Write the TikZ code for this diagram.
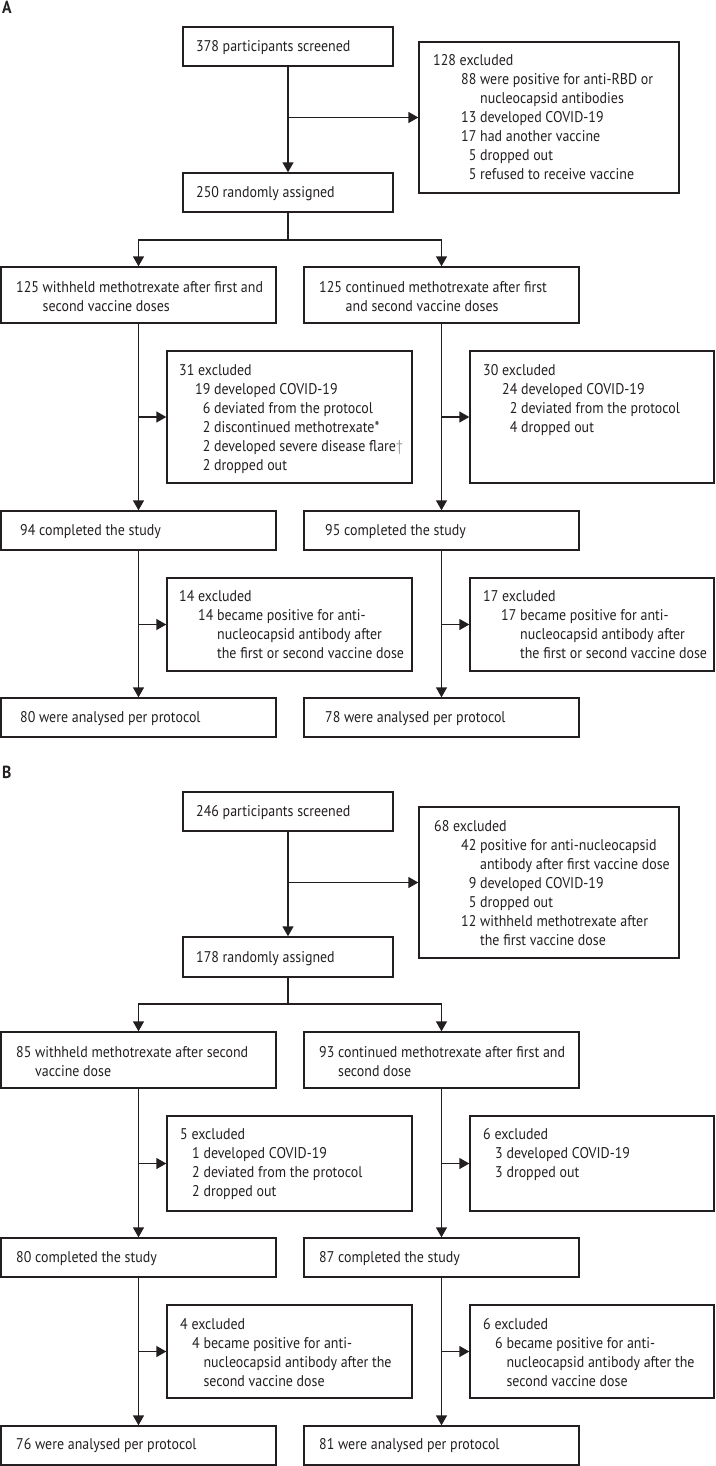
\documentclass[tikz,border=0pt]{standalone}
\usepackage{fontspec}
\setmainfont{PT Sans}[FakeStretch=0.9]
\usetikzlibrary{arrows.meta,fit}
\definecolor{ink}{HTML}{231F20}
\definecolor{dag}{HTML}{9A9A9A}
\tikzset{
 bx/.style={draw=ink, line width=1.4pt, inner sep=0pt, rectangle},
 txt/.style={anchor=base west, inner sep=0pt, text=ink, font=\fontsize{15.5}{19}\selectfont},
 ln/.style={draw=ink, line width=1.4pt},
 arr/.style={ln, -{Triangle[length=10pt,width=11pt]}},
 lab/.style={anchor=base west, inner sep=0pt, text=ink, font=\fontsize{17.5}{19}\selectfont\bfseries},
}
\begin{document}
\begin{tikzpicture}[x=1pt,y=-1pt]
\useasboundingbox (0,0) rectangle (715,1466);
% ---------------- Panel A ----------------
\node[lab] (la) at (2,13.5) {A};
\node[bx, fit={(183,27) (393,66)}] (s1) {};
\node[txt] (s1t) at (196,52) {378 participants screened};
\node[bx, fit={(419,42) (679,193)}] (ex1) {};
\node[txt] (ex1t) at (433,66) {\begin{tabular}[t]{@{}l@{}r@{\ }l@{}}\multicolumn{3}{@{}l@{}}{128 excluded}\\\hspace*{28pt}&88&were positive for anti-RBD or\\&&nucleocapsid antibodies\\&13&developed COVID-19\\&17&had another vaccine\\&5&dropped out\\&5&refused to receive vaccine\end{tabular}};
\node[bx, fit={(183,173) (393,212)}] (r1) {};
\node[txt] (r1t) at (196,197) {250 randomly assigned};
\node[bx, fit={(1,267) (276,323)}] (g1) {};
\node[txt] (g1t) at (16,292) {\begin{tabular}[t]{@{}l@{\ }l@{}}125&withheld methotrexate after first and\\&second vaccine doses\end{tabular}};
\node[bx, fit={(304,267) (579,323)}] (g2) {};
\node[txt] (g2t) at (319,292) {\begin{tabular}[t]{@{}l@{\ }l@{}}125&continued methotrexate after first\\&and second vaccine doses\end{tabular}};
\node[bx, fit={(167,351) (412,483)}] (ex2) {};
\node[txt] (ex2t) at (179,375) {\begin{tabular}[t]{@{}l@{}r@{\ }l@{}}\multicolumn{3}{@{}l@{}}{31 excluded}\\\hspace*{16pt}&19&developed COVID-19\\&6&deviated from the protocol\\&2&discontinued methotrexate*\\&2&developed severe disease flare\textcolor{dag}{\textdagger}\\&2&dropped out\end{tabular}};
\node[bx, fit={(470,351) (714,483)}] (ex3) {};
\node[txt] (ex3t) at (483,375) {\begin{tabular}[t]{@{}l@{}r@{\ }l@{}}\multicolumn{3}{@{}l@{}}{30 excluded}\\\hspace*{19pt}&24&developed COVID-19\\&2&deviated from the protocol\\&4&dropped out\end{tabular}};
\node[bx, fit={(1,511) (276,550)}] (c1) {};
\node[txt] (c1t) at (20,535) {94 completed the study};
\node[bx, fit={(304,511) (579,550)}] (c2) {};
\node[txt] (c2t) at (325,535) {95 completed the study};
\node[bx, fit={(167,578) (412,671)}] (ex4) {};
\node[txt] (ex4t) at (179,601) {\begin{tabular}[t]{@{}l@{}r@{\ }l@{}}\multicolumn{3}{@{}l@{}}{14 excluded}\\\hspace*{19pt}&14&became positive for anti-\\&&nucleocapsid antibody after\\&&the first or second vaccine dose\end{tabular}};
\node[bx, fit={(470,578) (714,671)}] (ex5) {};
\node[txt] (ex5t) at (483,601) {\begin{tabular}[t]{@{}l@{}r@{\ }l@{}}\multicolumn{3}{@{}l@{}}{17 excluded}\\\hspace*{18pt}&17&became positive for anti-\\&&nucleocapsid antibody after\\&&the first or second vaccine dose\end{tabular}};
\node[bx, fit={(1,698) (276,737)}] (a1) {};
\node[txt] (a1t) at (20,722) {80 were analysed per protocol};
\node[bx, fit={(304,698) (579,737)}] (a2) {};
\node[txt] (a2t) at (325,722) {78 were analysed per protocol};
% connectors A
\coordinate (spA) at (288,240);
\draw[arr] (s1.south) -- (r1.north);
\draw[arr] (s1.south |- ex1.west) -- (ex1.west);
\draw[ln] (r1.south) -- (spA);
\draw[arr] (spA) -| (g1.north);
\draw[arr] (spA) -| (g2.north);
\draw[arr] (g1.south) -- (c1.north);
\draw[arr] (g1.south |- ex2.west) -- (ex2.west);
\draw[arr] (g2.south) -- (c2.north);
\draw[arr] (g2.south |- ex3.west) -- (ex3.west);
\draw[arr] (c1.south) -- (a1.north);
\draw[arr] (c1.south |- ex4.west) -- (ex4.west);
\draw[arr] (c2.south) -- (a2.north);
\draw[arr] (c2.south |- ex5.west) -- (ex5.west);
% ---------------- Panel B ----------------
\node[lab] (lb) at (2,778) {B};
\node[bx, fit={(183,792) (393,831)}] (s2) {};
\node[txt] (s2t) at (196,816) {246 participants screened};
\node[bx, fit={(419,807) (679,958)}] (ex6) {};
\node[txt] (ex6t) at (434,831) {\begin{tabular}[t]{@{}l@{}r@{\ }l@{}}\multicolumn{3}{@{}l@{}}{68 excluded}\\\hspace*{27pt}&42&positive for anti-nucleocapsid\\&&antibody after first vaccine dose\\&9&developed COVID-19\\&5&dropped out\\&12&withheld methotrexate after\\&&the first vaccine dose\end{tabular}};
\node[bx, fit={(183,937) (393,977)}] (r2) {};
\node[txt] (r2t) at (196,962) {178 randomly assigned};
\node[bx, fit={(1,1032) (276,1088)}] (g3) {};
\node[txt] (g3t) at (16,1057) {\begin{tabular}[t]{@{}l@{\ }l@{}}85&withheld methotrexate after second\\&vaccine dose\end{tabular}};
\node[bx, fit={(304,1032) (579,1088)}] (g4) {};
\node[txt] (g4t) at (319,1057) {\begin{tabular}[t]{@{}l@{\ }l@{}}93&continued methotrexate after first and\\&second dose\end{tabular}};
\node[bx, fit={(167,1116) (412,1211)}] (ex7) {};
\node[txt] (ex7t) at (180,1139) {\begin{tabular}[t]{@{}l@{}r@{\ }l@{}}\multicolumn{3}{@{}l@{}}{5 excluded}\\\hspace*{12pt}&1&developed COVID-19\\&2&deviated from the protocol\\&2&dropped out\end{tabular}};
\node[bx, fit={(470,1116) (714,1211)}] (ex8) {};
\node[txt] (ex8t) at (483,1139) {\begin{tabular}[t]{@{}l@{}r@{\ }l@{}}\multicolumn{3}{@{}l@{}}{6 excluded}\\\hspace*{12pt}&3&developed COVID-19\\&3&dropped out\end{tabular}};
\node[bx, fit={(1,1238) (276,1277)}] (c3) {};
\node[txt] (c3t) at (16,1262) {80 completed the study};
\node[bx, fit={(304,1238) (579,1277)}] (c4) {};
\node[txt] (c4t) at (319,1262) {87 completed the study};
\node[bx, fit={(167,1305) (412,1398)}] (ex9) {};
\node[txt] (ex9t) at (180,1329) {\begin{tabular}[t]{@{}l@{}r@{\ }l@{}}\multicolumn{3}{@{}l@{}}{4 excluded}\\\hspace*{12pt}&4&became positive for anti-\\&&nucleocapsid antibody after the\\&&second vaccine dose\end{tabular}};
\node[bx, fit={(470,1305) (714,1398)}] (ex10) {};
\node[txt] (ex10t) at (483,1329) {\begin{tabular}[t]{@{}l@{}r@{\ }l@{}}\multicolumn{3}{@{}l@{}}{6 excluded}\\\hspace*{12pt}&6&became positive for anti-\\&&nucleocapsid antibody after the\\&&second vaccine dose\end{tabular}};
\node[bx, fit={(1,1426) (276,1465)}] (a3) {};
\node[txt] (a3t) at (16,1449) {76 were analysed per protocol};
\node[bx, fit={(304,1426) (579,1465)}] (a4) {};
\node[txt] (a4t) at (319,1449) {81 were analysed per protocol};
% connectors B
\coordinate (spB) at (288,1004);
\draw[arr] (s2.south) -- (r2.north);
\draw[arr] (s2.south |- ex6.west) -- (ex6.west);
\draw[ln] (r2.south) -- (spB);
\draw[arr] (spB) -| (g3.north);
\draw[arr] (spB) -| (g4.north);
\draw[arr] (g3.south) -- (c3.north);
\draw[arr] (g3.south |- ex7.west) -- (ex7.west);
\draw[arr] (g4.south) -- (c4.north);
\draw[arr] (g4.south |- ex8.west) -- (ex8.west);
\draw[arr] (c3.south) -- (a3.north);
\draw[arr] (c3.south |- ex9.west) -- (ex9.west);
\draw[arr] (c4.south) -- (a4.north);
\draw[arr] (c4.south |- ex10.west) -- (ex10.west);
\end{tikzpicture}
\end{document}
